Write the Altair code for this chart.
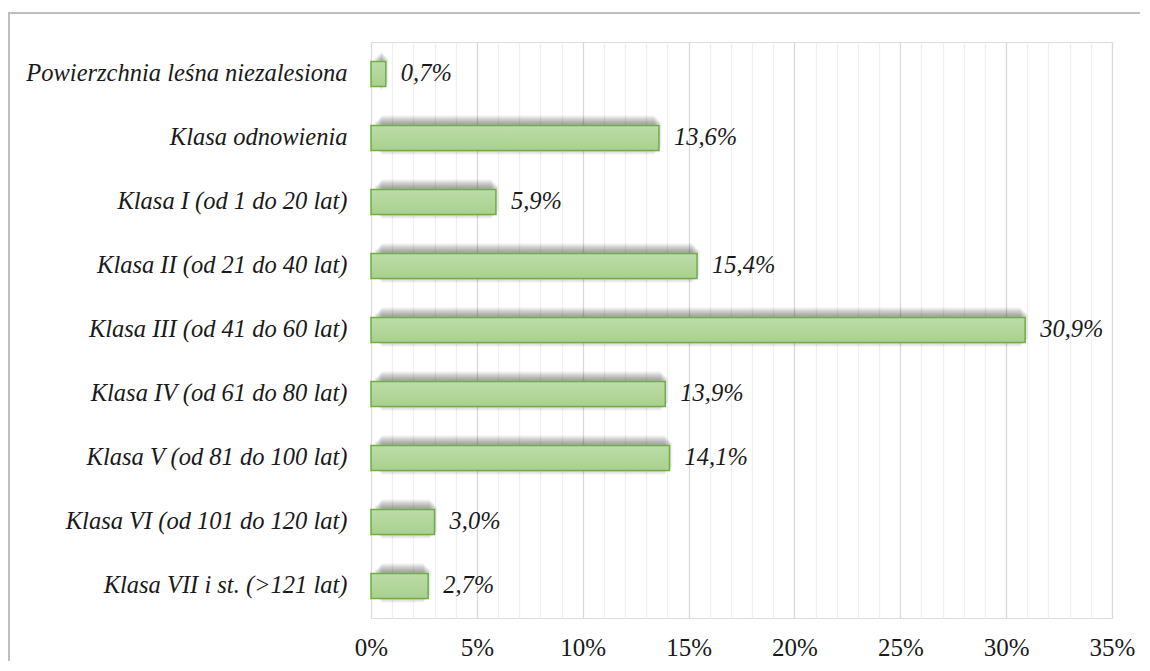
import altair as alt
import pandas as pd

categories = [
    "Powierzchnia leśna niezalesiona",
    "Klasa odnowienia",
    "Klasa I (od 1 do 20 lat)",
    "Klasa II (od 21 do 40 lat)",
    "Klasa III (od 41 do 60 lat)",
    "Klasa IV (od 61 do 80 lat)",
    "Klasa V (od 81 do 100 lat)",
    "Klasa VI (od 101 do 120 lat)",
    "Klasa VII i st. (>121 lat)",
]
values = [0.7, 13.6, 5.9, 15.4, 30.9, 13.9, 14.1, 3.0, 2.7]
x_ticks = list(range(0, 36))

df = pd.DataFrame({"cat": categories, "val": values})
FONT = "Liberation Serif"

x_enc = alt.X(
    "val:Q",
    scale=alt.Scale(domain=[0, 35], nice=False),
    axis=alt.Axis(
        values=x_ticks,
        labelExpr="datum.value % 5 === 0 ? datum.value + '%' : ''",
        grid=True,
        gridColor=alt.condition("datum.value % 5 === 0", alt.value("#d9d9d9"), alt.value("#efefef")),
        gridWidth=1.3,
        domain=False,
        ticks=False,
        labelFont=FONT,
        labelFontSize=25,
        labelColor="#1a1a1a",
        labelPadding=17,
        labelFlush=False,
        title=None,
    ),
)
y_enc = alt.Y(
    "cat:N",
    sort=categories,
    scale=alt.Scale(paddingInner=0.61, paddingOuter=0.305),
    axis=alt.Axis(
        domain=False,
        ticks=False,
        labelFont=FONT,
        labelFontSize=24.5,
        labelFontStyle="italic",
        labelColor="#1a1a1a",
        labelPadding=24,
        labelLimit=400,
        title=None,
    ),
)

base = alt.Chart(df)

shadows = []
for k in range(12):
    shadows.append(
        base.mark_bar(
            color="black",
            opacity=0.03,
            yOffset=-3,
            xOffset=3 - k * 0.7,
            x2Offset=3 + k * 0.7,
            height=24 + 1.4 * k,
        ).encode(x=x_enc, x2=alt.value(0), y=y_enc)
    )

bars = base.mark_bar(
    color=alt.Gradient(
        gradient="linear",
        stops=[
            alt.GradientStop(color="#bcdca8", offset=0),
            alt.GradientStop(color="#a9d18e", offset=1),
        ],
        x1=0, x2=0, y1=0, y2=1,
    ),
    stroke="#70ad47",
    strokeWidth=1.5,
    height=25,
).encode(x=x_enc, y=y_enc)

labels = base.transform_calculate(
    lab="replace(format(datum.val, '.1f'), '.', ',') + '%'"
).mark_text(
    align="left",
    baseline="middle",
    dx=15,
    font=FONT,
    fontSize=24.5,
    fontStyle="italic",
    color="#1a1a1a",
).encode(x=x_enc, y=y_enc, text="lab:N")

frame_data = alt.Data(values=[{"a": 1}])
frame_top = alt.Chart(frame_data).mark_rule(color="#bfbfbf", strokeWidth=2).encode(
    x=alt.value(-363), x2=alt.value(769), y=alt.value(-29)
)
frame_left = alt.Chart(frame_data).mark_rule(color="#bfbfbf", strokeWidth=2).encode(
    x=alt.value(-362), y=alt.value(-29), y2=alt.value(700)
)

chart = alt.layer(*shadows, bars, labels, frame_top, frame_left).properties(
    width=741,
    height=576,
    autosize=alt.AutoSizeParams(type="none"),
    padding={"left": 363, "top": 34, "right": 30, "bottom": 43},
).configure_view(stroke="#d9d9d9", strokeWidth=1.5).configure(background="white")

chart.save("out.html", embed_options={"renderer": "svg", "actions": False})
